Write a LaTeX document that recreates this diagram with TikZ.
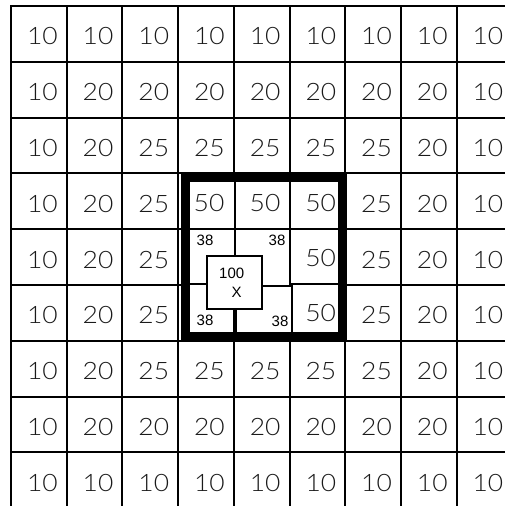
\documentclass[tikz,border=0pt]{standalone}
\usepackage{fontspec}
\setmainfont{Liberation Sans}
\newfontfamily\gridfont{Lato}[UprightFont={* Light}, FakeStretch=1.1]
\definecolor{numgray}{HTML}{1A1A1A}
\begin{document}
\begin{tikzpicture}[x=1pt,y=-1pt,
  gridline/.style={line width=2pt, black},
  innerline/.style={line width=1.6pt, black},
  gridnum/.style={font=\gridfont\fontsize{24}{24}\selectfont, text=numgray, inner sep=0pt},
  smallnum/.style={font=\fontsize{15}{15}\selectfont, text=black, inner sep=0pt},
  centerbox/.style={draw, line width=1.6pt, fill=white, minimum width=55pt, minimum height=53pt, inner sep=0pt}
]
\useasboundingbox (0,0) rectangle (504,506);
\fill[white] (0,0) rectangle (504,506);
% grid lines
\foreach \i in {0,...,8} {
  \draw[gridline] ({11+55.7*\i},5) -- ({11+55.7*\i},507);
}
\foreach \j in {0,...,8} {
  \draw[gridline] (10,{6+55.8*\j}) -- (505,{6+55.8*\j});
}
% grid numbers
\foreach \row [count=\r from 0] in {
  {10,10,10,10,10,10,10,10,10},
  {10,20,20,20,20,20,20,20,10},
  {10,20,25,25,25,25,25,20,10},
  {10,20,25,50,50,50,25,20,10},
  {10,20,25,38,38,50,25,20,10},
  {10,20,25,38,38,50,25,20,10},
  {10,20,25,25,25,25,25,20,10},
  {10,20,20,20,20,20,20,20,10},
  {10,10,10,10,10,10,10,10,10}} {
  \foreach \v [count=\c from 0] in \row {
    \pgfmathtruncatemacro\inbox{and(and(\r>2,\r<6),and(\c>2,\c<6))}
    \ifnum\inbox=0
      \node[gridnum] (n\r\c) at ({11+55.7*\c+27.85+3.5},{6+55.8*\r+27.9+2.5}) {\v};
    \fi
  }
}
% centre region
\fill[white] (190,182) rectangle (338,332);
\draw[innerline] (190,229) -- (338,229);
\draw[innerline] (235,182) -- (235,258);
\draw[line width=3.5pt] (235,307) -- (235,332);
\draw[innerline] (290,182) -- (290,285);
\draw[innerline] (292,285) -- (292,332);
\draw[innerline] (190,284) -- (208,284);
\draw[innerline] (261,286) -- (292,286);
\draw[innerline] (291,284) -- (338,284);
\draw[line width=9pt] (185.5,177.5) rectangle (342.5,336.5);
% 50 cells
\node[gridnum] (c33) at (209,203) {50};
\node[gridnum] (c34) at (265,203) {50};
\node[gridnum] (c35) at (320.7,203) {50};
\node[gridnum] (c45) at (320.7,257.7) {50};
\node[gridnum] (c55) at (320.7,313) {50};
% 38 labels
\node[smallnum] (s1) at (205,240) {38};
\node[smallnum] (s2) at (277,240) {38};
\node[smallnum] (s3) at (205,320.5) {38};
\node[smallnum] (s4) at (280,321) {38};
% centre box
\node[centerbox] (box) at (234.5,282.5) {};
\node[smallnum] (hundred) at (231.7,273.3) {100};
\node[smallnum] (xlab) at (236.7,292.7) {X};
\end{tikzpicture}
\end{document}
